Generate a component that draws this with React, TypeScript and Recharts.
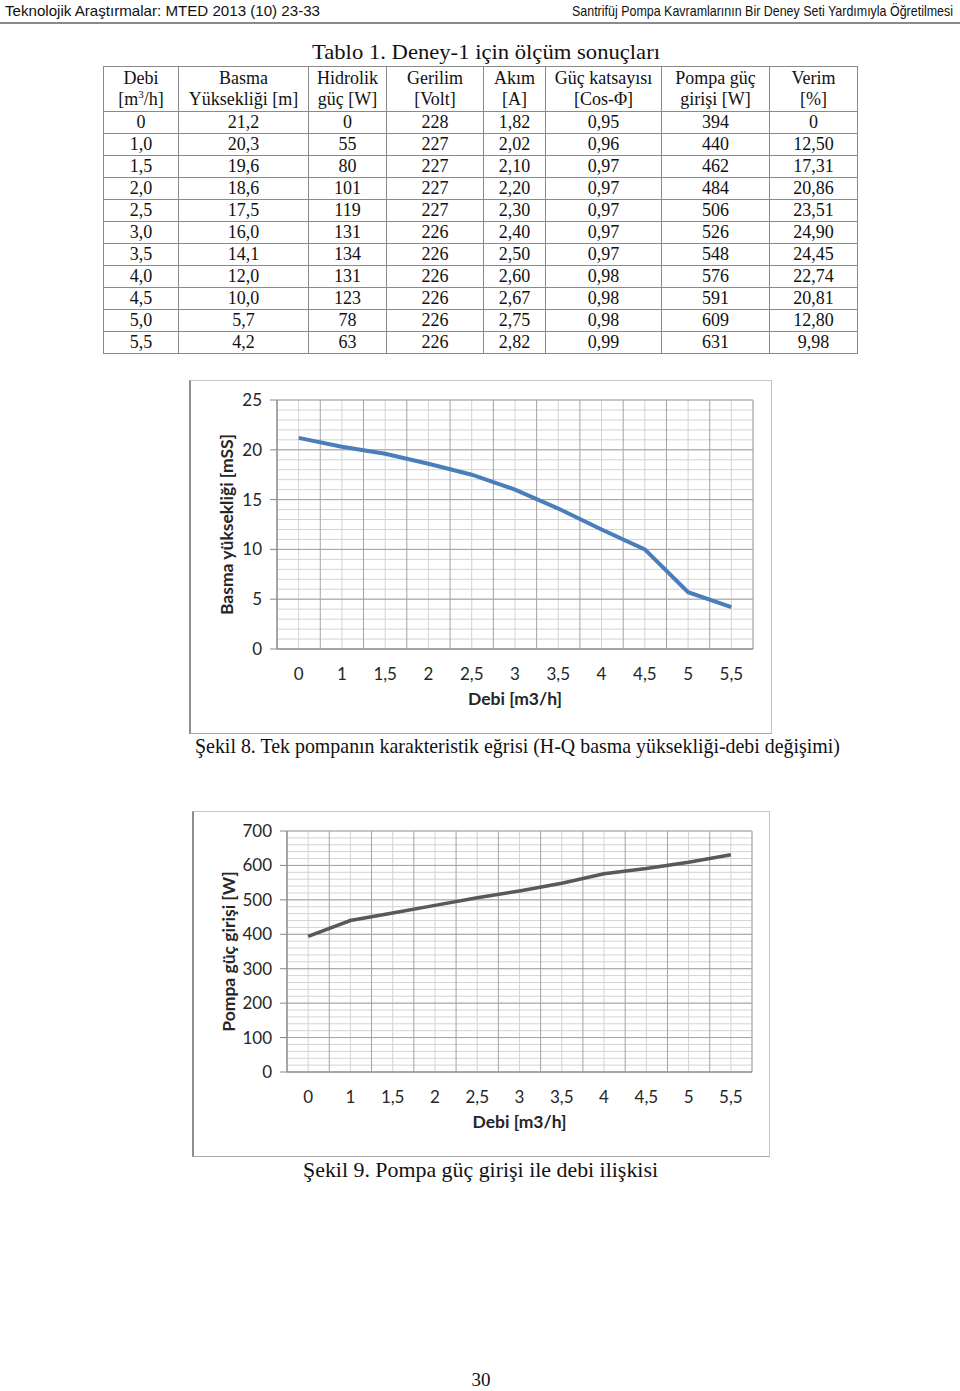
import { LineChart, Line, XAxis, YAxis, CartesianGrid, Label } from 'recharts';

// debi categories (x axis tick labels)
const debiLabels = ['0', '1', '1,5', '2', '2,5', '3', '3,5', '4', '4,5', '5', '5,5'];
// H-Q curve, basma yüksekliği [mSS]
const basmaValues = [21.2, 20.3, 19.6, 18.6, 17.5, 16.0, 14.1, 12.0, 10.0, 5.7, 4.2];
// pompa güç girişi [W]
const pompaGucValues = [394, 440, 462, 484, 506, 526, 548, 576, 591, 609, 631];

const basmaTicks = [0, 5, 10, 15, 20, 25];
const gucTicks = [0, 100, 200, 300, 400, 500, 600, 700];

// Tablo 1 columns
const tableDebi = ['0', '1,0', '1,5', '2,0', '2,5', '3,0', '3,5', '4,0', '4,5', '5,0', '5,5'];
const tableBasma = ['21,2', '20,3', '19,6', '18,6', '17,5', '16,0', '14,1', '12,0', '10,0', '5,7', '4,2'];
const tableHidrolik = ['0', '55', '80', '101', '119', '131', '134', '131', '123', '78', '63'];
const tableGerilim = ['228', '227', '227', '227', '227', '226', '226', '226', '226', '226', '226'];
const tableAkim = ['1,82', '2,02', '2,10', '2,20', '2,30', '2,40', '2,50', '2,60', '2,67', '2,75', '2,82'];
const tableCos = ['0,95', '0,96', '0,97', '0,97', '0,97', '0,97', '0,97', '0,98', '0,98', '0,98', '0,99'];
const tablePompa = ['394', '440', '462', '484', '506', '526', '548', '576', '591', '609', '631'];
const tableVerim = ['0', '12,50', '17,31', '20,86', '23,51', '24,90', '24,45', '22,74', '20,81', '12,80', '9,98'];

const tableColumns = [tableDebi, tableBasma, tableHidrolik, tableGerilim, tableAkim, tableCos, tablePompa, tableVerim];
const colWidths = [75, 130, 78, 97, 62, 116, 108, 88];

const range = (start: number, stop: number, step: number) => {
  const out: number[] = [];
  for (let v = start; v <= stop + 1e-9; v += step) out.push(Math.round(v * 100) / 100);
  return out;
};

const centerTicks = debiLabels.map((_, i) => i);
const edgeTicks = range(-0.5, debiLabels.length - 0.5, 1);

const chartFont = 'Lato, "Open Sans", sans-serif';
const serif = '"Liberation Serif", "Times New Roman", serif';
const narrow = '"Liberation Sans Narrow", "Liberation Sans", Arial, sans-serif';

type ChartProps = {
  values: number[];
  color: string;
  strokeWidth: number;
  width: number;
  height: number;
  margin: { top: number; right: number; left: number; bottom: number };
  yWidth: number;
  yTicks: number[];
  minorStep: number;
  yTitle: string;
  yTitleOffset: number;
};

function PumpChart(p: ChartProps) {
  const data = debiLabels.map((label, idx) => ({ idx, label, v: p.values[idx] }));
  const yMax = p.yTicks[p.yTicks.length - 1];
  const minorTicks = range(0, yMax, p.minorStep);
  const domainX: [number, number] = [-0.5, debiLabels.length - 0.5];
  const titleStyle = { fontSize: 17.5, fontWeight: 700, fill: '#262626', fontFamily: chartFont };

  // minor horizontal grid, mapped through the y axis scale
  const minorRows = ({ yAxis, offset }: any) =>
    minorTicks.map((t) =>
      typeof yAxis?.scale === 'function' ? yAxis.scale(t) : offset.top + offset.height * (1 - t / yMax),
    );

  return (
    <LineChart width={p.width} height={p.height} data={data} margin={p.margin}>
      <XAxis
        xAxisId="x"
        type="number"
        dataKey="idx"
        domain={domainX}
        ticks={centerTicks}
        interval={0}
        tickFormatter={(v: number) => debiLabels[v]}
        tickLine={false}
        tickSize={0}
        tickMargin={19}
        axisLine={{ stroke: '#868686' }}
        height={60}
        tick={{ fontSize: 17, fill: '#262626', fontFamily: chartFont }}
      >
        <Label value="Debi [m3/h]" position="insideBottom" offset={4} style={titleStyle} />
      </XAxis>
      <XAxis
        xAxisId="edge"
        type="number"
        dataKey="idx"
        orientation="top"
        height={0}
        domain={domainX}
        ticks={edgeTicks}
        interval={0}
        hide
      />
      <YAxis
        yAxisId="y"
        type="number"
        domain={[0, yMax]}
        ticks={p.yTicks}
        interval={0}
        width={p.yWidth}
        tickSize={7}
        tickMargin={8}
        tickLine={{ stroke: '#868686' }}
        axisLine={{ stroke: '#868686' }}
        tick={{ fontSize: 17, fill: '#262626', fontFamily: chartFont }}
      >
        <Label
          value={p.yTitle}
          angle={-90}
          position="insideLeft"
          offset={p.yTitleOffset}
          style={{ ...titleStyle, textAnchor: 'middle' }}
        />
      </YAxis>
      <CartesianGrid
        xAxisId="x"
        yAxisId="y"
        horizontalCoordinatesGenerator={minorRows}
        stroke="#d3d3d3"
        strokeWidth={1}
      />
      <CartesianGrid xAxisId="edge" yAxisId="y" stroke="#a3a3a3" strokeWidth={1} />
      <Line
        xAxisId="x"
        yAxisId="y"
        type="linear"
        dataKey="v"
        stroke={p.color}
        strokeWidth={p.strokeWidth}
        dot={false}
        activeDot={false}
        isAnimationActive={false}
      />
    </LineChart>
  );
}

function ChartBox({ left, top, width, height, children }: { left: number; top: number; width: number; height: number; children: any }) {
  return (
    <>
      <div style={{ position: 'absolute', left, top, width, height }}>{children}</div>
      <div
        style={{
          position: 'absolute',
          left,
          top,
          width,
          height,
          boxSizing: 'border-box',
          border: '1px solid #c4c4c4',
          borderLeft: '2px solid #8f8f8f',
          borderBottom: '1px solid #a8a8a8',
          pointerEvents: 'none',
        }}
      />
    </>
  );
}

const cellStyle: any = {
  border: '1px solid #8a8a8a',
  padding: 0,
  height: 21,
  lineHeight: '21px',
  textAlign: 'center',
  verticalAlign: 'middle',
  whiteSpace: 'nowrap',
};

export default function App() {
  return (
    <div
      style={{
        position: 'absolute',
        left: 0,
        top: 0,
        width: 960,
        height: 1391,
        background: '#fff',
        overflow: 'hidden',
        color: '#111',
      }}
    >
      <svg width={960} height={70} style={{ position: 'absolute', left: 0, top: 0 }}>
        <text x={5} y={16} fontFamily={narrow} fontSize={15} textLength={315} lengthAdjust="spacingAndGlyphs" fill="#111">
          Teknolojik Araştırmalar: MTED 2013 (10) 23-33
        </text>
        <text x={572} y={16} fontFamily={narrow} fontSize={15} textLength={381} lengthAdjust="spacingAndGlyphs" fill="#111">
          Santrifüj Pompa Kavramlarının Bir Deney Seti Yardımıyla Öğretilmesi
        </text>
        <line x1={0} x2={960} y1={23} y2={23} stroke="#8a8a8a" strokeWidth={2} />
        <text x={312} y={59} fontFamily={serif} fontSize={22} textLength={348} lengthAdjust="spacingAndGlyphs" fill="#111">
          Tablo 1. Deney-1 için ölçüm sonuçları
        </text>
      </svg>

      <table
        style={{
          position: 'absolute',
          left: 103,
          top: 66,
          width: 754,
          borderCollapse: 'collapse',
          tableLayout: 'fixed',
          fontFamily: serif,
          fontSize: 18,
          color: '#111',
        }}
      >
        <colgroup>
          {colWidths.map((w, i) => (
            <col key={i} style={{ width: w }} />
          ))}
        </colgroup>
        <thead>
          <tr>
            <th style={{ ...cellStyle, fontWeight: 400, height: 44 }}>Debi<br />[m<sup style={{ fontSize: 11, lineHeight: 0 }}>3</sup>/h]</th>
            <th style={{ ...cellStyle, fontWeight: 400, height: 44 }}>Basma<br />Yüksekliği [m]</th>
            <th style={{ ...cellStyle, fontWeight: 400, height: 44 }}>Hidrolik<br />güç [W]</th>
            <th style={{ ...cellStyle, fontWeight: 400, height: 44 }}>Gerilim<br />[Volt]</th>
            <th style={{ ...cellStyle, fontWeight: 400, height: 44 }}>Akım<br />[A]</th>
            <th style={{ ...cellStyle, fontWeight: 400, height: 44 }}>Güç katsayısı<br />[Cos-Φ]</th>
            <th style={{ ...cellStyle, fontWeight: 400, height: 44 }}>Pompa güç<br />girişi [W]</th>
            <th style={{ ...cellStyle, fontWeight: 400, height: 44 }}>Verim<br />[%]</th>
          </tr>
        </thead>
        <tbody>
          {tableDebi.map((_, r) => (
            <tr key={r}>
              {tableColumns.map((col, c) => (
                <td key={c} style={cellStyle}>
                  {col[r]}
                </td>
              ))}
            </tr>
          ))}
        </tbody>
      </table>

      <ChartBox left={189} top={380} width={583} height={354}>
        <PumpChart
          values={basmaValues}
          color="#4a7ebb"
          strokeWidth={4}
          width={583}
          height={354}
          margin={{ top: 20, right: 19, left: 28, bottom: 25 }}
          yWidth={60}
          yTicks={basmaTicks}
          minorStep={1}
          yTitle="Basma yüksekliği [mSS]"
          yTitleOffset={10}
        />
      </ChartBox>

      <ChartBox left={192} top={811} width={578} height={346}>
        <PumpChart
          values={pompaGucValues}
          color="#595959"
          strokeWidth={3.5}
          width={578}
          height={346}
          margin={{ top: 20, right: 18, left: 28, bottom: 25 }}
          yWidth={67}
          yTicks={gucTicks}
          minorStep={20}
          yTitle="Pompa güç girişi [W]"
          yTitleOffset={9}
        />
      </ChartBox>

      <svg width={960} height={1391} style={{ position: 'absolute', left: 0, top: 0, pointerEvents: 'none' }}>
        <text x={195} y={753} fontFamily={serif} fontSize={21} textLength={645} lengthAdjust="spacingAndGlyphs" fill="#111">
          Şekil 8. Tek pompanın karakteristik eğrisi (H-Q basma yüksekliği-debi değişimi)
        </text>
        <text x={303} y={1177} fontFamily={serif} fontSize={21} textLength={355} lengthAdjust="spacingAndGlyphs" fill="#111">
          Şekil 9. Pompa güç girişi ile debi ilişkisi
        </text>
        <text x={481} y={1386} fontFamily={serif} fontSize={19} textAnchor="middle" fill="#111">
          30
        </text>
      </svg>
    </div>
  );
}
